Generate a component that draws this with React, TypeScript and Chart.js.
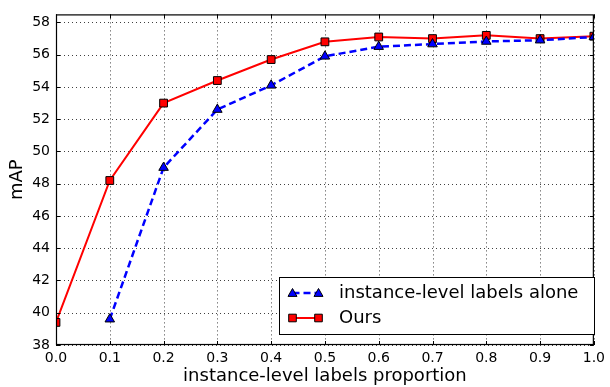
import React, { useEffect, useRef } from "react";
import { Chart, registerables } from "chart.js";

Chart.register(...registerables);

const proportions = [0.0, 0.1, 0.2, 0.3, 0.4, 0.5, 0.6, 0.7, 0.8, 0.9, 1.0];
const instanceAlone = [null, 39.6, 49.0, 52.6, 54.1, 55.9, 56.5, 56.66, 56.82, 56.9, 57.1];
const ours = [39.4, 48.2, 53.0, 54.4, 55.7, 56.8, 57.1, 57.0, 57.2, 57.0, 57.15];
const xTickValues = [0.0, 0.1, 0.2, 0.3, 0.4, 0.5, 0.6, 0.7, 0.8, 0.9, 1.0];
const yTickValues = [38, 40, 42, 44, 46, 48, 50, 52, 54, 56, 58];
const seriesLabels = ["instance-level labels alone", "Ours"];
const xTitle = "instance-level labels proportion";
const yTitle = "mAP";

const FONT = "'DejaVu Sans', sans-serif";

const framePlugin = {
  id: "mplFrame",
  beforeDatasetsDraw(chart: any) {
    const { ctx, chartArea: a, scales } = chart;
    const xs = scales.x;
    const ys = scales.y;
    ctx.save();
    ctx.strokeStyle = "rgba(0,0,0,0.75)";
    ctx.lineWidth = 1;
    ctx.setLineDash([1, 3]);
    xTickValues.forEach((v) => {
      const px = Math.round(xs.getPixelForValue(v)) + 0.5;
      ctx.beginPath();
      ctx.moveTo(px, a.top);
      ctx.lineTo(px, a.bottom);
      ctx.stroke();
    });
    yTickValues.forEach((v) => {
      const py = Math.round(ys.getPixelForValue(v)) + 0.5;
      ctx.beginPath();
      ctx.moveTo(a.left, py);
      ctx.lineTo(a.right, py);
      ctx.stroke();
    });
    ctx.restore();
  },
  afterDraw(chart: any) {
    const { ctx, chartArea: a, scales } = chart;
    const xs = scales.x;
    const ys = scales.y;
    ctx.save();
    ctx.setLineDash([]);
    ctx.strokeStyle = "#000";
    ctx.lineWidth = 1;
    const tl = 4;
    xTickValues.forEach((v) => {
      const px = Math.round(xs.getPixelForValue(v)) + 0.5;
      ctx.beginPath();
      ctx.moveTo(px, a.bottom);
      ctx.lineTo(px, a.bottom - tl);
      ctx.moveTo(px, a.top);
      ctx.lineTo(px, a.top + tl);
      ctx.stroke();
    });
    yTickValues.forEach((v) => {
      const py = Math.round(ys.getPixelForValue(v)) + 0.5;
      ctx.beginPath();
      ctx.moveTo(a.left, py);
      ctx.lineTo(a.left + tl, py);
      ctx.moveTo(a.right, py);
      ctx.lineTo(a.right - tl, py);
      ctx.stroke();
    });
    ctx.lineWidth = 1.2;
    ctx.strokeRect(a.left + 0.5, a.top + 0.5, a.right - a.left - 1, a.bottom - a.top - 1);

    // legend
    const bx = 279.5, by = 277.5, bw = 315, bh = 57;
    ctx.fillStyle = "#fff";
    ctx.fillRect(bx, by, bw, bh);
    ctx.lineWidth = 1;
    ctx.strokeStyle = "#000";
    ctx.strokeRect(bx, by, bw, bh);
    const rows = [293, 318];
    const ds = chart.data.datasets;
    rows.forEach((ry, i) => {
      const d = ds[i];
      const x1 = 292.5, x2 = 318.5;
      ctx.save();
      ctx.strokeStyle = d.borderColor;
      ctx.lineWidth = d.borderWidth;
      ctx.setLineDash(d.borderDash || []);
      ctx.beginPath();
      ctx.moveTo(x1, ry);
      ctx.lineTo(x2, ry);
      ctx.stroke();
      ctx.restore();
      [x1, x2].forEach((mx) => {
        ctx.save();
        ctx.fillStyle = d.pointBackgroundColor;
        ctx.strokeStyle = d.pointBorderColor;
        ctx.lineWidth = d.pointBorderWidth;
        ctx.beginPath();
        if (d.pointStyle === "rect") {
          const s = 3.8;
          ctx.rect(mx - s, ry - s, 2 * s, 2 * s);
        } else {
          const r = 4.5;
          ctx.moveTo(mx, ry - r);
          ctx.lineTo(mx + r, ry + r * 0.75);
          ctx.lineTo(mx - r, ry + r * 0.75);
          ctx.closePath();
        }
        ctx.fill();
        ctx.stroke();
        ctx.restore();
      });
      ctx.fillStyle = "#000";
      ctx.font = `18px ${FONT}`;
      ctx.textBaseline = "middle";
      ctx.textAlign = "left";
      ctx.fillText(seriesLabels[i], 339, ry);
    });
    ctx.restore();
  },
};

export default function App() {
  const canvasRef = useRef<HTMLCanvasElement | null>(null);

  useEffect(() => {
    if (!canvasRef.current) return;
    const chart = new Chart(canvasRef.current, {
      type: "line",
      data: {
        labels: proportions,
        datasets: [
          {
            label: seriesLabels[0],
            data: proportions.map((p, i) => ({ x: p, y: instanceAlone[i] })) as any,
            borderColor: "#0000ff",
            borderWidth: 2.5,
            borderDash: [7, 4],
            pointStyle: "triangle",
            pointRadius: 5.5,
            pointBackgroundColor: "#0000ff",
            pointBorderColor: "#000",
            pointBorderWidth: 1,
            spanGaps: false,
            tension: 0,
          },
          {
            label: seriesLabels[1],
            data: proportions.map((p, i) => ({ x: p, y: ours[i] })) as any,
            borderColor: "#ff0000",
            borderWidth: 2,
            pointStyle: "rect",
            pointRadius: 5.5,
            pointBackgroundColor: "#ff0000",
            pointBorderColor: "#000",
            pointBorderWidth: 1,
            tension: 0,
          },
        ],
      },
      options: {
        responsive: false,
        animation: false,
        events: [],
        layout: { padding: { top: 8, right: 15, left: 0, bottom: 0 } },
        plugins: {
          legend: { display: false },
          tooltip: { enabled: false },
        },
        scales: {
          x: {
            type: "linear",
            min: 0,
            max: 1,
            grid: { display: false, drawTicks: false },
            border: { display: false },
            afterBuildTicks: (s: any) => {
              s.ticks = xTickValues.map((v) => ({ value: v }));
            },
            afterFit: (s: any) => {
              s.height = 42;
            },
            ticks: {
              color: "#000",
              padding: 5,
              maxRotation: 0,
              autoSkip: false,
              font: { family: FONT, size: 14 },
              callback: (v: any) => Number(v).toFixed(1),
            },
            title: {
              display: true,
              text: xTitle,
              color: "#000",
              font: { family: FONT, size: 18 },
              padding: { top: 0, bottom: 0 },
            },
          },
          y: {
            type: "linear",
            min: 38,
            max: 58.5,
            grid: { display: false, drawTicks: false },
            border: { display: false },
            afterBuildTicks: (s: any) => {
              s.ticks = yTickValues.map((v) => ({ value: v }));
            },
            afterFit: (s: any) => {
              s.width = 56;
            },
            ticks: {
              color: "#000",
              padding: 6,
              autoSkip: false,
              font: { family: FONT, size: 14 },
              callback: (v: any) => String(v),
            },
            title: {
              display: true,
              text: yTitle,
              color: "#000",
              font: { family: FONT, size: 18 },
              padding: { top: 7, bottom: 0 },
            },
          },
        },
      },
      plugins: [framePlugin],
    });
    return () => chart.destroy();
  }, []);

  return (
    <div style={{ position: "absolute", left: 0, top: 0, width: 610, height: 387, background: "#fff" }}>
      <canvas ref={canvasRef} width={610} height={387} />
    </div>
  );
}
